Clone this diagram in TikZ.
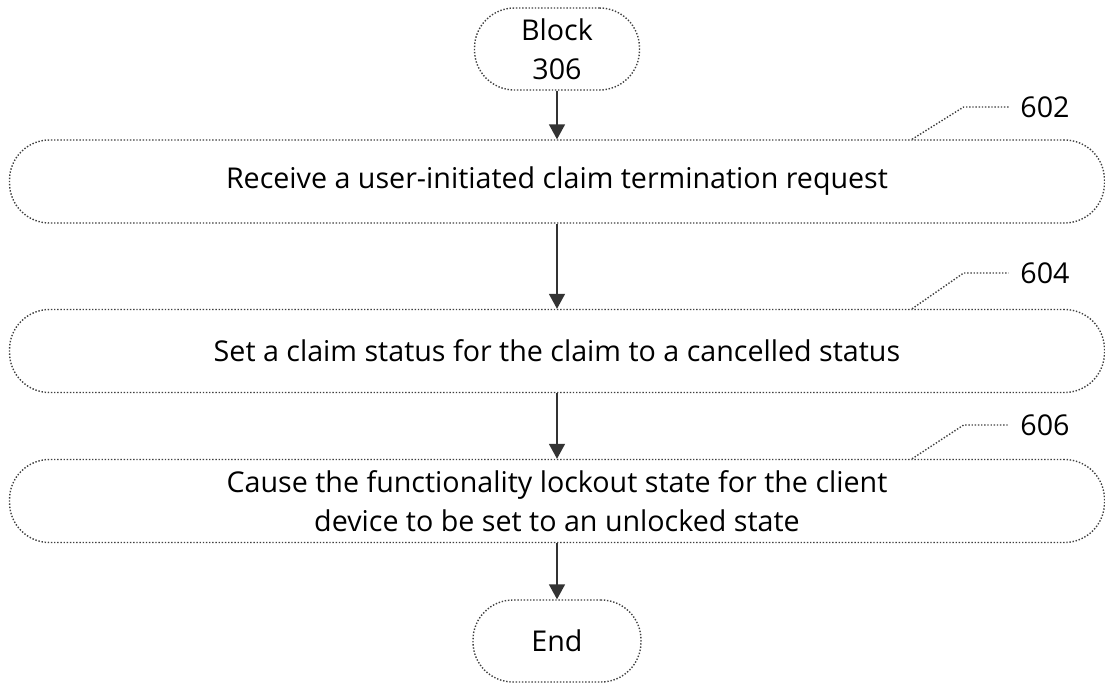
\documentclass[tikz,border=0pt]{standalone}
\usepackage{fontspec}
\setmainfont{Open Sans}
\usepackage{tikz}
\usetikzlibrary{arrows.meta,positioning}

\begin{document}
\begin{tikzpicture}[
    every node/.style={font=\fontsize{16.3}{22}\selectfont},
    term/.style={draw=black!75, densely dotted, line width=0.8pt, rounded corners=0.8cm,
      minimum width=3.3cm, minimum height=1.64cm, align=center, inner sep=0pt},
    stepbox/.style={draw=black!75, densely dotted, line width=0.8pt, rounded corners=0.8cm,
      minimum width=21.9cm, minimum height=1.66cm, align=center, inner sep=0pt},
    reflabel/.style={inner xsep=6.5pt, inner ysep=0pt},
    flow/.style={-{Triangle[width=0.32cm,length=0.3cm]}, line width=0.9pt, black!80}]
\useasboundingbox (0,0) rectangle (22.1,13.7);

\node[term] (start) at (11.14,12.72) {Block\\306};
\node[stepbox] (s602) at (11.14,10.07) {Receive a user-initiated claim termination request};
\node[stepbox] (s604) at (11.14,6.68) {Set a claim status for the claim to a cancelled status};
\node[stepbox] (s606) at (11.14,3.68) {Cause the functionality lockout state for the client\\device to be set to an unlocked state};
\node[term, minimum width=3.36cm] (stop) at (11.14,0.88) {End};

\node[reflabel] (l602) at (20.9,11.56) {602};
\node[reflabel] (l604) at (20.9,8.24) {604};
\node[reflabel] (l606) at (20.9,5.2) {606};

\foreach \u/\v in {start/s602,s602/s604,s604/s606,s606/stop} \draw[flow] (\u.south) -- (\v.north);
\foreach \s in {602,604,606}
  \draw[black!75, densely dotted, line width=0.8pt] ([xshift=7.1cm]s\s.north) -- ([xshift=-0.9cm]l\s.west) -- (l\s.west);

\end{tikzpicture}
\end{document}
